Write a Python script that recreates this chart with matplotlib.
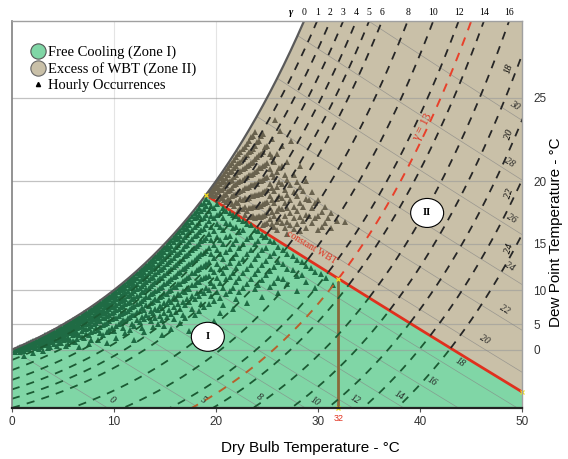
import numpy as np
import matplotlib
matplotlib.use("Agg")
import matplotlib.pyplot as plt
from matplotlib.lines import Line2D
from matplotlib.patches import Polygon, Ellipse
import matplotlib.transforms as mtransforms

# ---------------- data ----------------
db_ticks = [0, 10, 20, 30, 40, 50]
dew_ticks = [0, 5, 10, 15, 20, 25]
gamma_curves = [1, 2, 3, 4, 5, 6, 8, 10, 12, 14, 16, 18, 20, 22, 24]
gamma_top_labels = [0, 1, 2, 3, 4, 5, 6, 8, 10, 12, 14, 16]
gamma_side_labels = [18, 20, 22, 24]
gamma_design = 13
wbt_lines = [0, 5, 8, 10, 12, 14, 16, 18, 20, 22, 24, 26, 28, 30]
wbt_limit = 19
design_db = 32
w_max = 25

# hourly occurrences: dry bulb -> list of dew points (deg C)
hours_cold = {
    0.3: [-0.2, -0.6], 0.8: [0.5, 0.1, -0.5], 1.2: [0.9, 0.4, -0.3, -1.5],
    1.7: [1.4, 0.9, 0.2], 2.1: [1.8, 1.2, 0.6, -0.8], 2.6: [2.3, 1.9, 1.1, 0.2],
    3.0: [2.7, 2.2, 1.5, -0.4], 3.5: [3.2, 2.8, 2.0, 1.2, 0.3], 3.9: [3.6, 3.1, 2.5, 1.6],
    4.4: [4.1, 3.6, 3.0, 2.1, 0.8], 4.8: [4.5, 4.0, 3.3, 2.6, 1.4],
    5.3: [5.0, 4.6, 4.0, 3.2, 2.4, 0.9], 5.7: [5.4, 4.9, 4.3, 3.5, 2.0],
}
hours_mild = {
    6.2: [5.9, 5.5, 4.8, 4.1, 3.3, 1.6], 6.6: [6.3, 5.8, 5.2, 4.5, 3.0, 0.7],
    7.1: [6.8, 6.4, 5.7, 5.0, 4.2, 2.6], 7.5: [7.2, 6.7, 6.1, 5.3, 4.4, 3.1, 1.2],
    8.0: [7.7, 7.3, 6.6, 5.9, 5.0, 3.8], 8.4: [8.1, 7.6, 7.0, 6.2, 5.5, 4.1, 2.2],
    8.9: [8.6, 8.2, 7.5, 6.9, 6.0, 4.9, 3.0], 9.3: [9.0, 8.5, 7.9, 7.2, 6.4, 5.3, 3.7, 1.5],
    9.8: [9.5, 9.1, 8.4, 7.7, 6.8, 5.9, 4.3], 10.2: [9.9, 9.4, 8.8, 8.0, 7.3, 6.1, 4.8, 2.6],
    10.7: [10.4, 10.0, 9.3, 8.6, 7.8, 6.7, 5.2], 11.1: [10.8, 10.3, 9.6, 8.9, 8.1, 7.0, 5.5, 3.4],
    11.6: [11.3, 10.9, 10.2, 9.4, 8.5, 7.4, 6.2, 4.0],
    12.0: [11.7, 11.2, 10.6, 9.9, 9.0, 7.9, 6.6, 4.7, 2.0],
    12.5: [12.2, 11.8, 11.1, 10.3, 9.4, 8.3, 7.1, 5.4],
}
hours_warm = {
    12.9: [12.6, 12.1, 11.5, 10.8, 9.8, 8.8, 7.3, 5.9, 3.6],
    13.4: [13.1, 12.7, 12.0, 11.2, 10.3, 9.1, 7.9, 6.2],
    13.8: [13.5, 13.0, 12.4, 11.6, 10.7, 9.6, 8.4, 6.8, 4.5],
    14.3: [14.0, 13.6, 12.9, 12.1, 11.2, 10.0, 8.7, 7.3, 5.1],
    14.7: [14.4, 13.9, 13.3, 12.5, 11.5, 10.4, 9.2, 7.6, 5.8, 3.0],
    15.2: [14.9, 14.5, 13.8, 13.0, 12.0, 10.9, 9.5, 8.1, 6.2],
    15.6: [15.3, 14.8, 14.2, 13.4, 12.4, 11.3, 10.0, 8.5, 6.7, 4.2],
    16.1: [15.8, 15.4, 14.7, 13.9, 12.9, 11.7, 10.4, 8.9, 7.0],
    16.5: [16.2, 15.7, 15.1, 14.2, 13.3, 12.1, 10.8, 9.4, 7.5, 5.3],
    17.0: [16.7, 16.3, 15.6, 14.8, 13.8, 12.6, 11.2, 9.8, 8.0, 6.1],
    17.4: [17.1, 16.6, 16.0, 15.1, 14.1, 13.0, 11.6, 10.1, 8.4, 3.8],
    17.9: [17.6, 17.2, 16.5, 15.7, 14.6, 13.4, 12.0, 10.6, 8.9, 6.5],
    18.3: [18.0, 17.5, 16.8, 16.0, 15.0, 13.8, 12.5, 11.0, 9.3, 7.2],
    18.8: [18.4, 17.9, 17.2, 16.3, 15.3, 14.1, 12.8, 11.4, 9.6, 7.7, 4.9],
}
hours_band = {
    0.55: [0.3, 0.0], 1.0: [0.7, 0.2, -0.3], 1.45: [1.2, 0.8, 0.1], 1.9: [1.6, 1.1, 0.5],
    2.35: [2.1, 1.7, 1.0, 0.3], 2.8: [2.5, 2.0, 1.4, 0.6], 3.25: [3.0, 2.6, 1.9, 1.1],
    3.7: [3.4, 3.0, 2.4, 1.7, 0.6], 4.15: [3.9, 3.4, 2.8, 2.0, 1.2],
    4.6: [4.3, 3.8, 3.2, 2.4, 1.5], 5.05: [4.8, 4.3, 3.7, 2.9, 2.0],
    5.5: [5.2, 4.7, 4.1, 3.4, 2.6, 1.3], 5.95: [5.7, 5.2, 4.6, 3.8, 3.0, 1.9],
    6.4: [6.1, 5.6, 5.0, 4.3, 3.5, 2.4], 6.85: [6.6, 6.1, 5.5, 4.7, 3.9, 2.8],
    7.3: [7.0, 6.5, 5.9, 5.1, 4.2, 3.3], 7.75: [7.5, 7.0, 6.3, 5.6, 4.7, 3.6, 2.1],
    8.2: [7.9, 7.4, 6.8, 6.0, 5.2, 4.3], 8.65: [8.4, 7.9, 7.2, 6.5, 5.6, 4.6, 3.4],
    9.1: [8.8, 8.3, 7.7, 6.9, 6.1, 5.0], 9.55: [9.3, 8.8, 8.1, 7.4, 6.5, 5.5, 4.1],
    10.0: [9.7, 9.2, 8.6, 7.8, 7.0, 6.0, 3.9], 10.45: [10.2, 9.7, 9.0, 8.3, 7.4, 6.4, 5.0],
    10.9: [10.6, 10.1, 9.5, 8.7, 7.9, 6.8, 5.7, 4.4],
    11.35: [11.1, 10.6, 9.9, 9.2, 8.3, 7.2, 6.0],
    11.8: [11.5, 11.0, 10.4, 9.6, 8.8, 7.7, 6.5, 5.1],
    12.25: [12.0, 11.5, 10.8, 10.1, 9.2, 8.2, 7.0, 5.8],
    12.7: [12.4, 11.9, 11.3, 10.5, 9.7, 8.6, 7.6, 6.3, 4.4],
    13.15: [12.9, 12.4, 11.7, 11.0, 10.1, 9.1, 8.0, 6.6],
    13.6: [13.3, 12.8, 12.2, 11.4, 10.5, 9.5, 8.3, 7.1, 5.5],
    14.05: [13.8, 13.3, 12.6, 11.9, 11.0, 9.9, 8.8, 7.5, 6.0],
    14.5: [14.2, 13.7, 13.1, 12.3, 11.4, 10.3, 9.1, 7.9, 6.4],
    14.95: [14.7, 14.2, 13.5, 12.7, 11.8, 10.7, 9.6, 8.3, 6.9, 4.8],
    15.4: [15.1, 14.6, 14.0, 13.2, 12.2, 11.1, 9.9, 8.7, 7.3],
    15.85: [15.6, 15.1, 14.4, 13.6, 12.7, 11.6, 10.4, 9.1, 7.7, 5.9],
    16.3: [16.0, 15.5, 14.9, 14.0, 13.1, 12.0, 10.7, 9.5, 8.2],
    16.75: [16.5, 16.0, 15.3, 14.5, 13.5, 12.4, 11.1, 9.9, 8.5, 6.6],
    17.2: [16.9, 16.4, 15.8, 14.9, 13.9, 12.8, 11.5, 10.3, 8.9],
    17.65: [17.4, 16.9, 16.2, 15.4, 14.4, 13.2, 12.0, 10.6, 9.2, 7.4],
    18.1: [17.8, 17.3, 16.6, 15.8, 14.8, 13.6, 12.3, 11.0, 9.6],
    18.55: [18.3, 17.8, 17.1, 16.2, 15.2, 14.0, 12.7, 11.3, 9.9, 8.2],
    19.0: [18.7, 18.2, 17.5, 16.6, 15.5, 14.3, 13.0, 11.6, 10.2],
}
hours_hot_dry = {
    19.3: [18.5, 17.8, 17.0, 15.9, 14.6, 13.2, 11.7, 10.0, 8.1],
    19.55: [18.2, 17.4, 16.5, 15.3, 14.0, 12.5, 10.9, 9.2],
    19.8: [18.0, 17.2, 16.1, 14.9, 13.6, 12.1, 10.5, 8.6, 5.6],
    20.1: [18.3, 17.5, 16.7, 15.6, 14.4, 13.0, 11.4, 9.8],
    20.4: [17.6, 16.5, 15.3, 14.0, 12.4, 10.9, 9.0, 6.8],
    20.7: [18.0, 17.2, 16.2, 15.0, 13.5, 12.0, 10.3, 8.0],
    21.0: [17.8, 16.8, 15.6, 14.2, 12.7, 11.3, 9.5],
    21.35: [17.6, 16.7, 15.7, 14.5, 13.1, 11.6, 9.9],
    21.7: [17.5, 16.4, 15.0, 13.6, 12.0, 10.2, 7.4],
    22.0: [17.4, 16.5, 15.3, 14.0, 12.6, 11.0, 8.8],
    22.3: [17.1, 16.0, 14.6, 13.1, 11.5, 9.7], 22.65: [17.0, 16.2, 15.0, 13.5, 12.0, 10.3],
    23.0: [16.7, 15.4, 14.0, 12.4, 10.8, 8.3], 23.4: [16.6, 15.6, 14.4, 12.9, 11.3],
    23.8: [16.2, 15.0, 13.5, 11.9, 10.1], 24.15: [16.1, 15.2, 13.9, 12.3, 10.6],
    24.5: [15.8, 14.4, 12.9, 11.2, 9.1], 24.9: [15.6, 14.6, 13.3, 11.8],
    25.3: [15.2, 13.8, 12.2, 10.4], 25.7: [15.1, 14.1, 12.7, 10.9],
    26.1: [14.7, 13.2, 11.5, 9.6], 26.6: [14.4, 13.0, 11.3],
    27.0: [14.0, 12.4, 10.8], 27.5: [13.8, 12.3], 27.9: [13.4, 11.7, 9.9],
    28.4: [13.2, 11.8], 28.8: [12.8, 11.0], 29.3: [12.6], 29.7: [12.1, 10.3],
    30.3: [11.9], 30.8: [11.4], 31.5: [10.6],
}
hours_humid = {
    19.4: [19.2, 19.0], 19.6: [19.4, 19.1], 19.8: [19.6, 19.3, 18.9],
    20.0: [19.8, 19.5, 19.0], 20.2: [20.0, 19.6, 19.2, 18.7], 20.4: [20.2, 19.8, 19.4, 18.9],
    20.6: [20.3, 19.9, 19.4, 18.8], 20.8: [20.5, 20.0, 19.5, 19.0, 18.6],
    21.0: [20.7, 20.2, 19.7, 19.1, 18.5], 21.2: [20.9, 20.4, 19.9, 19.3, 18.7],
    21.4: [21.1, 20.6, 20.0, 19.4, 18.6], 21.6: [21.2, 20.7, 20.1, 19.5, 18.9, 18.3],
    21.8: [21.4, 20.9, 20.3, 19.7, 19.0, 18.2], 22.0: [21.6, 21.0, 20.4, 19.8, 19.1, 18.5],
    22.2: [21.8, 21.2, 20.6, 19.9, 19.2, 18.4, 17.8],
    22.4: [21.9, 21.3, 20.7, 20.0, 19.3, 18.7, 18.0],
    22.6: [22.1, 21.5, 20.8, 20.1, 19.4, 18.6, 17.9],
    22.8: [22.2, 21.6, 20.9, 20.2, 19.5, 18.8, 18.1, 17.5],
    23.0: [22.4, 21.7, 21.0, 20.3, 19.5, 18.7, 17.8],
    23.2: [22.6, 21.9, 21.1, 20.4, 19.6, 18.8, 18.0],
    23.4: [22.8, 22.0, 21.2, 20.4, 19.7, 18.9, 18.0, 17.3],
    23.6: [22.9, 22.1, 21.3, 20.5, 19.7, 18.9, 18.1, 17.4],
    23.8: [23.1, 22.3, 21.5, 20.6, 19.8, 19.0, 18.1, 17.2],
    24.0: [22.5, 21.6, 20.7, 19.8, 19.0, 18.1, 17.3],
    24.2: [22.6, 21.7, 20.9, 20.0, 19.1, 18.2, 17.4],
    24.4: [22.9, 21.8, 20.9, 20.0, 19.1, 18.2, 17.3],
    24.6: [23.0, 21.9, 21.0, 20.1, 19.2, 18.3, 17.4, 16.6],
    24.8: [22.2, 21.1, 20.2, 19.3, 18.4, 17.5, 16.7],
    25.0: [22.3, 21.2, 20.3, 19.4, 18.5, 17.6, 16.8],
    25.25: [21.8, 20.8, 19.8, 18.9, 18.0, 17.1],
    25.5: [22.7, 21.6, 20.5, 19.5, 18.6, 17.7, 16.7],
    25.7: [21.3, 20.3, 19.3, 18.4, 17.4, 16.5],
    25.8: [23.8], 26.0: [21.8, 20.6, 19.6, 18.7, 17.8, 16.9, 16.2],
    26.2: [20.9, 19.9, 18.9, 18.0, 17.1], 26.3: [23.2],
    26.5: [22.3, 21.0, 19.8, 18.8, 17.9, 16.8], 26.8: [20.4, 19.4, 18.4, 17.4, 16.4],
    27.0: [21.3, 20.1, 19.0, 18.0, 16.9, 15.9], 27.3: [19.7, 18.6, 17.6, 16.6],
    27.4: [22.6], 27.6: [20.4, 19.2, 18.1, 17.2, 16.3], 27.9: [19.9, 18.9, 17.8, 16.7],
    28.2: [21.0, 19.6, 18.4, 17.3, 16.1], 28.5: [19.3, 18.1, 17.0],
    28.8: [20.0, 18.7, 17.5, 16.4], 29.1: [18.6, 17.4], 29.4: [19.2, 18.0, 16.8],
    29.7: [18.4, 17.2], 30.0: [18.6, 17.4, 16.2], 30.4: [17.7, 16.5],
    30.7: [18.1, 16.8], 31.0: [17.2], 31.3: [17.6, 16.4], 31.9: [17.0], 32.6: [16.9],
}

# ---------------- psychrometrics ----------------
P_ATM = 101325.0

def p_sat(t):
    t = np.asarray(t, float)
    return 610.94 * np.exp(17.625 * t / (t + 243.04))

def w_sat(t):
    p = p_sat(t)
    return 622.0 * p / (P_ATM - p)

def w_line(t, twb):
    t = np.asarray(t, float)
    ws = w_sat(twb) / 1000.0
    return 1000.0 * ((2501 - 2.326 * twb) * ws - 1.006 * (t - twb)) / \
        (2501 + 1.86 * t - 4.186 * twb)

# ---------------- style ----------------
GREEN = "#80d6a6"
TAN = "#c9c0a8"
GREEN_PT = "#1f6b44"
TAN_PT = "#69624e"
SERIF = "Liberation Serif"
SANS = "Liberation Sans"

fig = plt.figure(figsize=(5.68, 4.59), dpi=100)
ax = fig.add_axes([12 / 568, 51 / 459, 510 / 568, 387 / 459])
ax.set_xlim(0, 50)
ax.set_ylim(0, w_max)

twb_grid = np.linspace(-20, 42, 3000)
t_top = np.interp(w_max, w_sat(twb_grid), twb_grid)

# zones
ts1 = np.linspace(0, wbt_limit, 200)
tl = np.linspace(wbt_limit, 50, 200)
wl = w_line(tl, wbt_limit)
green_poly = [(0, 0)] + list(zip(ts1, w_sat(ts1))) + list(zip(tl, wl)) + [(50, 0)]
ts2 = np.linspace(wbt_limit, t_top, 200)
tan_poly = list(zip(ts2, w_sat(ts2))) + [(50, w_max)] + list(zip(tl[::-1], wl[::-1]))
ax.add_patch(Polygon(green_poly, closed=True, fc=GREEN, ec="none", zorder=1))
ax.add_patch(Polygon(tan_poly, closed=True, fc=TAN, ec="none", zorder=1))

# grid
for x in db_ticks[1:-1]:
    ax.axvline(x, color="#e4e4e4", lw=0.8, zorder=0.5)
for td in dew_ticks:
    ax.axhline(w_sat(td), color="#9a9a9a", lw=0.9, alpha=0.6, zorder=1.5)

# constant wet bulb lines
for twb in wbt_lines:
    t = np.linspace(twb, 52, 300)
    w = w_line(t, twb)
    m = w > -0.5
    ax.plot(t[m], w[m], color="#858585", lw=0.5, alpha=0.7, zorder=2)

# limit line (constant WBT) and design dry bulb
ax.plot(tl, wl, color="#e0301e", lw=2.0, zorder=2.5, solid_capstyle="butt")
w_design = float(w_line(design_db, wbt_limit))
ax.plot([design_db, design_db], [0, w_design], color="#8a6a3a", lw=2.0, zorder=2.5)

# hourly occurrences
db_all, dp_all = [], []
for group in (hours_cold, hours_mild, hours_warm, hours_band, hours_hot_dry, hours_humid):
    for db, dps in group.items():
        for dp in dps:
            db_all.append(db)
            dp_all.append(dp)
db_all = np.array(db_all)
w_pts = w_sat(np.array(dp_all))
is_tan = w_pts > w_line(db_all, wbt_limit)
ax.plot(db_all[~is_tan], w_pts[~is_tan], ls="none", marker="^", ms=3.8, mew=0,
        color=GREEN_PT, zorder=3)
ax.plot(db_all[is_tan], w_pts[is_tan], ls="none", marker="^", ms=3.8, mew=0,
        color=TAN_PT, zorder=3)

# gamma (wet-bulb depression) curves
def gamma_curve(d):
    return twb_grid + d, w_line(twb_grid + d, twb_grid)

for d in gamma_curves + [gamma_design]:
    t, w = gamma_curve(d)
    valid = (w > -1) & (w < w_max + 1) & (t < 52)
    lo = valid & (twb_grid <= wbt_limit)
    hi = valid & (twb_grid >= wbt_limit)
    if d == gamma_design:
        c_lo, c_hi, lw = "#b8612c", "#e8402a", 1.4
    else:
        c_lo, c_hi, lw = "#1b5a33", "#262626", 1.3
    ax.plot(t[lo], w[lo], color=c_lo, lw=lw, dashes=(4.5, 4), zorder=4)
    ax.plot(t[hi], w[hi], color=c_hi, lw=lw, dashes=(4.5, 4), zorder=4)

# saturation curve
tsat = np.linspace(0, t_top, 300)
ax.plot(tsat, w_sat(tsat), color="#5a5a5a", lw=1.6, zorder=5)

# small yellow markers at key points
ax.plot([wbt_limit, design_db, 50, design_db],
        [w_sat(wbt_limit), w_design, float(w_line(50, wbt_limit)), 0],
        ls="none", marker="x", ms=3, mew=0.9, color="#f0e020", zorder=6, clip_on=False)

# top gamma labels
trans_top = mtransforms.blended_transform_factory(ax.transData, ax.transAxes)
for g in gamma_top_labels:
    t, w = gamma_curve(g)
    tx = np.interp(w_max, w, t)
    ax.text(tx, 1.021, str(g), transform=trans_top, ha="center", va="center",
            fontsize=7, family=SERIF)
    if g == 0:
        ax.text(tx - 1.3, 1.021, "γ", transform=trans_top, ha="center", va="center",
                fontsize=7.5, family=SERIF, style="italic", fontweight="bold")

# right-side gamma labels
for g in gamma_side_labels:
    t, w = gamma_curve(g)
    w50 = np.interp(50, t, w)
    ax.text(48.7, w50 - 0.9, str(g), ha="center", va="center", fontsize=7,
            family=SERIF, style="italic", rotation=72)

# wet bulb labels
wbt_label_db = [9.8, 18.7, 24.2, 29.7, 33.6, 38.0, 41.2, 43.9, 46.3, 48.3, 48.8, 49.0, 48.8, 49.3]
for twb, tx in zip(wbt_lines, wbt_label_db):
    wy = max(float(w_line(tx, twb)), -0.2) + 0.65
    ax.text(tx, wy, str(twb), ha="center", va="center", fontsize=7, family=SERIF,
            style="italic", rotation=-32, color="#222222", zorder=6)

# annotations
ax.text(29.4, 10.4, "constant WBT", color="#e0301e", fontsize=7, family=SERIF,
        rotation=-31, ha="center", va="center", zorder=6)
ax.text(40.3, 18.15, "γ = 13", color="#e0301e", fontsize=8.5, family=SERIF,
        rotation=62, ha="center", va="center", zorder=6)
for (cx, cy, lab) in [(19.2, 4.6, "I"), (40.7, 12.6, "II")]:
    ax.add_patch(Ellipse((cx, cy), 33 / 10.2, 29 / 15.48, fc="white", ec="black",
                         lw=0.8, zorder=7))
    ax.text(cx, cy, lab, ha="center", va="center", fontsize=7.5, family=SERIF,
            fontweight="bold", zorder=8)

# axes formatting
ax.set_xticks(db_ticks)
ax.set_xticklabels([str(v) for v in db_ticks], fontsize=8.5, family=SANS, color="#333333")
ax.tick_params(axis="x", length=3, color="#555555", pad=3)
ax.yaxis.tick_right()
ax.set_yticks(w_sat(np.array(dew_ticks)))
ax.set_yticklabels([str(v) for v in dew_ticks], fontsize=8.5, family=SANS, color="#333333")
ax.tick_params(axis="y", length=0, pad=8)
ax.text(design_db, -0.028, str(design_db), transform=trans_top, color="#e0301e",
        fontsize=6.5, family=SANS, ha="center", va="center")

ax.set_xlabel("Dry Bulb Temperature - °C", fontsize=11, family=SANS)
ax.xaxis.set_label_coords(0.586, -0.085)
fig.text(556 / 568, 1 - 232 / 459, "Dew Point Temperature - °C", rotation=90,
         ha="center", va="center", fontsize=11, family=SANS)

for side, col, lw in [("left", "#808080", 1.2), ("bottom", "#222222", 1.6),
                      ("top", "#a0a0a0", 1.0), ("right", "#a0a0a0", 1.0)]:
    ax.spines[side].set_color(col)
    ax.spines[side].set_linewidth(lw)
    ax.spines[side].set_zorder(6)

# legend
handles = [
    Line2D([], [], ls="none", marker="o", ms=11, mfc=GREEN, mec="#555555", mew=0.8),
    Line2D([], [], ls="none", marker="o", ms=11, mfc=TAN, mec="#666666", mew=0.8),
    Line2D([], [], ls="none", marker="^", ms=3, mfc="black", mec="black"),
]
ax.legend(handles, ["Free Cooling (Zone I)", "Excess of WBT (Zone II)", "Hourly Occurrences"],
          loc="upper left", bbox_to_anchor=(0.02, 0.958), frameon=False,
          prop={"family": SERIF, "size": 10.5}, handlelength=1.0, handletextpad=0.2,
          labelspacing=0.2, borderaxespad=0.2)

fig.savefig("out.png", dpi=100, facecolor="white")
